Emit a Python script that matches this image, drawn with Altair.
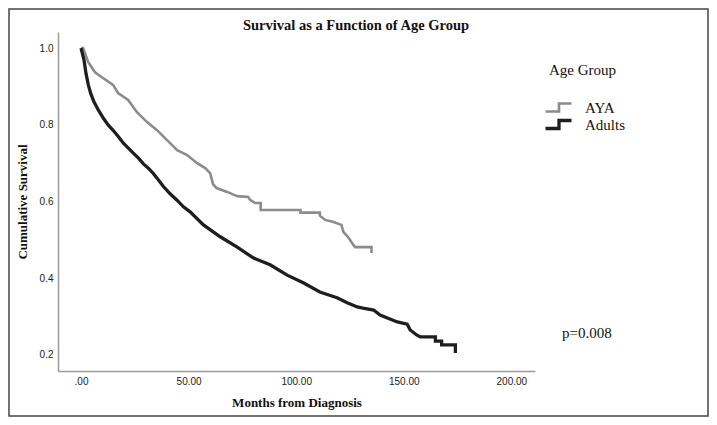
import pandas as pd
import altair as alt

# Kaplan-Meier curves (months, cumulative survival)
aya_months = [0, 1, 3.3, 6.5, 10.2, 14.9, 17.2, 21.9, 26, 30.7, 35.3, 40, 44.7, 49.3, 54,
              57.7, 60, 61.4, 63, 67.9, 72.6, 77.7, 78.6, 81, 83.5, 83.5, 102, 102, 111,
              111, 113.5, 117, 121, 122, 123.7, 125, 126.5, 127.4, 135, 135]
aya_surv = [1.0, 1.0, 0.964, 0.937, 0.922, 0.904, 0.883, 0.865, 0.833, 0.807, 0.786, 0.76,
            0.734, 0.721, 0.70, 0.687, 0.674, 0.645, 0.635, 0.625, 0.614, 0.612, 0.604,
            0.596, 0.596, 0.578, 0.578, 0.571, 0.571, 0.563, 0.552, 0.547, 0.539, 0.52,
            0.51, 0.50, 0.487, 0.481, 0.481, 0.466]

adult_months = [0, 1.4, 2.3, 3.4, 4.5, 6.0, 8.1, 10.4, 12.7, 15.0, 17.4, 19.7, 22.0, 24.3,
                26.7, 29.0, 31.3, 33.6, 36.0, 38.3, 41.4, 44.5, 47.6, 50.7, 56.9, 64.7,
                72.6, 80.0, 87.9, 95.8, 103.3, 111.0, 119.0, 123.7, 128.4, 131.0, 136.0,
                139.0, 147.0, 151.6, 153.0, 156.0, 157.7, 164.7, 164.7, 167.6, 167.6,
                174.0, 174.0]
adult_surv = [1.0, 0.969, 0.934, 0.904, 0.882, 0.860, 0.838, 0.817, 0.799, 0.785, 0.769,
              0.752, 0.739, 0.726, 0.713, 0.698, 0.687, 0.673, 0.656, 0.639, 0.620, 0.604,
              0.586, 0.573, 0.539, 0.508, 0.481, 0.453, 0.435, 0.408, 0.388, 0.364, 0.349,
              0.336, 0.325, 0.322, 0.317, 0.304, 0.286, 0.280, 0.265, 0.252, 0.247, 0.247,
              0.236, 0.236, 0.226, 0.226, 0.205]

groups = ["AYA", "Adults"]
group_colors = ["#8c8c8c", "#1e1e1e"]
x_ticks = [0, 50, 100, 150, 200]
y_ticks = [0.2, 0.4, 0.6, 0.8, 1.0]

aya = pd.DataFrame({"months": aya_months, "surv": aya_surv, "group": "AYA"})
adults = pd.DataFrame({"months": adult_months, "surv": adult_surv, "group": "Adults"})
for d in (aya, adults):
    d["idx"] = range(len(d))
km = pd.concat([aya, adults], ignore_index=True)

serif = "Liberation Serif"

curves = (alt.Chart(km)
    .mark_line()
    .encode(
        x=alt.X("months:Q",
                scale=alt.Scale(domain=[-10.7, 211], nice=False, zero=False),
                axis=alt.Axis(values=x_ticks, title="Months from Diagnosis",
                              labelExpr="datum.value == 0 ? '.00' : format(datum.value, '.2f')",
                              labelPadding=5, titleX=238.5, titleY=31,
                              titleBaseline="middle")),
        y=alt.Y("surv:Q",
                scale=alt.Scale(domain=[0.158, 1.042], nice=False, zero=False),
                axis=alt.Axis(values=y_ticks, format=".1f", title="Cumulative Survival",
                              labelPadding=5, titleX=-36, titleY=169.5, titleAngle=270,
                              titleAlign="center", titleBaseline="middle")),
        color=alt.Color("group:N",
                        scale=alt.Scale(domain=groups, range=group_colors),
                        legend=alt.Legend(title=None, orient="none", legendX=493, legendY=68,
                                          symbolType="M-2.6,0.8H0.1V-0.8H2.6",
                                          symbolSize=100, symbolStrokeWidth=3,
                                          symbolFillColor="transparent",
                                          labelFont=serif, labelFontSize=15,
                                          labelColor="#111", labelOffset=19,
                                          rowPadding=-7, padding=0)),
        strokeWidth=alt.StrokeWidth("group:N",
                                    scale=alt.Scale(domain=groups, range=[2.6, 3.3]),
                                    legend=None),
        order="idx:Q",
    )
)

one = pd.DataFrame({"t": [""]})

# frame round the whole figure
frame = (alt.Chart(one)
    .mark_rect(filled=False, stroke="#444444", strokeWidth=1.5)
    .encode(x=alt.value(-49), x2=alt.value(650), y=alt.value(-23), y2=alt.value(384))
)

title = (alt.Chart(one)
    .mark_text(font=serif, fontSize=14.5, fontWeight="bold", color="#111", align="center")
    .encode(x=alt.value(298), y=alt.value(-6), text=alt.value("Survival as a Function of Age Group"))
)

legend_title = (alt.Chart(one)
    .mark_text(font=serif, fontSize=15, color="#111", align="left", baseline="middle")
    .encode(x=alt.value(491), y=alt.value(38), text=alt.value("Age Group"))
)

p_value = (alt.Chart(one)
    .mark_text(font=serif, fontSize=15, color="#111", align="left", baseline="middle")
    .encode(x=alt.value(504), y=alt.value(301), text=alt.value("p=0.008"))
)

chart = (alt.layer(frame, curves, title, legend_title, p_value)
    .properties(width=477, height=339, autosize=alt.AutoSizeParams(type="none"),
                padding={"left": 50, "top": 24, "right": 174, "bottom": 46})
    .configure_view(strokeWidth=0)
    .configure_axis(domainColor="#9a9a9a", domainWidth=1.5, ticks=False, grid=False,
                    labelFont="Liberation Sans", labelFontSize=10, labelColor="#222",
                    titleFont=serif, titleFontSize=13, titleFontWeight="bold",
                    titleColor="#111")
)

chart.save("out.html", embed_options={"renderer": "svg", "actions": False})
